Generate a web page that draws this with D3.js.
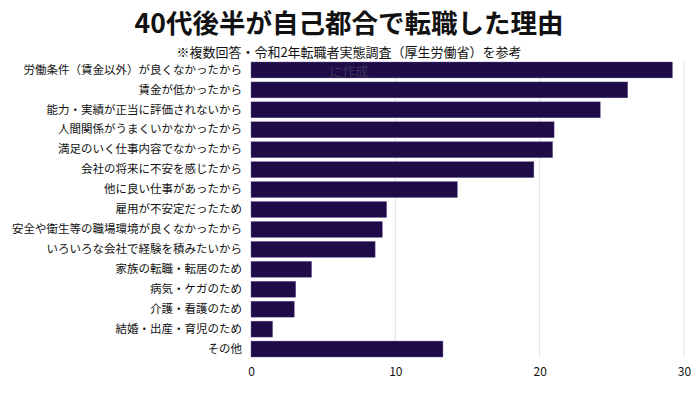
<!DOCTYPE html>
<html>
<head>
<meta charset="utf-8">
<script src="https://cdn.jsdelivr.net/npm/d3@7"></script>
<style>
  body { margin: 0; background: #fff; }
  text { font-family: "Noto Sans CJK JP", "Noto Sans", sans-serif; }
</style>
</head>
<body>
<div id="chart"></div>
<script>
var reasons = [
  '労働条件（賃金以外）が良くなかったから',
  '賃金が低かったから',
  '能力・実績が正当に評価されないから',
  '人間関係がうまくいかなかったから',
  '満足のいく仕事内容でなかったから',
  '会社の将来に不安を感じたから',
  '他に良い仕事があったから',
  '雇用が不安定だったため',
  '安全や衛生等の職場環境が良くなかったから',
  'いろいろな会社で経験を積みたいから',
  '家族の転職・転居のため',
  '病気・ケガのため',
  '介護・看護のため',
  '結婚・出産・育児のため',
  'その他'
];
var percents = [29.2, 26.1, 24.2, 21.0, 20.9, 19.6, 14.3, 9.4, 9.1, 8.6, 4.2, 3.1, 3.0, 1.5, 13.3];
var xTicks = [0, 10, 20, 30];

var drawChart = function(){
  var width = 700, height = 393;
  var left = 251, right = 684, top = 60, bottom = 359;

  var data = reasons.map(function(r, i){
    return { reason: r, value: percents[i] };
  });

  var x = d3.scaleLinear()
    .range([left, right])
    .domain([0, 30]);

  var y = d3.scaleBand()
    .range([top, bottom])
    .domain(reasons)
    .paddingInner(0.2)
    .paddingOuter(0.1);

  var svg = d3.select('#chart').append('svg')
    .attr('width', width)
    .attr('height', height);

  // grid lines
  svg.append('g')
    .selectAll('line')
    .data(xTicks.slice(1))
    .enter().append('line')
      .attr('x1', function(d){ return x(d); })
      .attr('x2', function(d){ return x(d); })
      .attr('y1', 62)
      .attr('y2', 357)
      .attr('stroke', '#e0e0e0')
      .attr('stroke-width', 1);

  // bars
  svg.append('g')
    .selectAll('rect')
    .data(data)
    .enter().append('rect')
      .attr('x', x(0))
      .attr('y', function(d){ return y(d.reason); })
      .attr('width', function(d){ return x(d.value) - x(0); })
      .attr('height', y.bandwidth())
      .attr('fill', '#1f0b47')
      .attr('stroke', '#6f5f9a')
      .attr('stroke-width', 0.4);

  // category labels
  svg.append('g')
    .attr('transform', 'translate(' + (left - 9) + ',0)')
    .call(d3.axisLeft(y).tickSize(0).tickPadding(0))
    .call(function(g){ g.select('.domain').remove(); })
    .selectAll('text')
      .style('font-size', '11.5px')
      .attr('fill', '#111');

  // x axis labels
  svg.append('g')
    .attr('transform', 'translate(0,' + (bottom + 4) + ')')
    .call(d3.axisBottom(x).tickValues(xTicks).tickSize(0).tickPadding(4))
    .call(function(g){ g.select('.domain').remove(); })
    .selectAll('text')
      .style('font-size', '12px')
      .attr('fill', '#111');

  // chart title
  svg.append('text')
    .attr('x', 349)
    .attr('y', 33)
    .style('text-anchor', 'middle')
    .style('font-size', '26.5px')
    .style('font-weight', 'bold')
    .attr('fill', '#111')
    .text('40代後半が自己都合で転職した理由');

  // subtitle (wraps onto second line over the first bar)
  svg.append('text')
    .attr('x', 349)
    .attr('y', 57)
    .style('text-anchor', 'middle')
    .style('font-size', '13px')
    .attr('fill', '#111')
    .text('※複数回答・令和2年転職者実態調査（厚生労働省）を参考');
  svg.append('text')
    .attr('x', 349)
    .attr('y', 76)
    .style('text-anchor', 'middle')
    .style('font-size', '13px')
    .attr('fill', '#3c3358')
    .text('に作成');
};

drawChart();
</script>
</body>
</html>
